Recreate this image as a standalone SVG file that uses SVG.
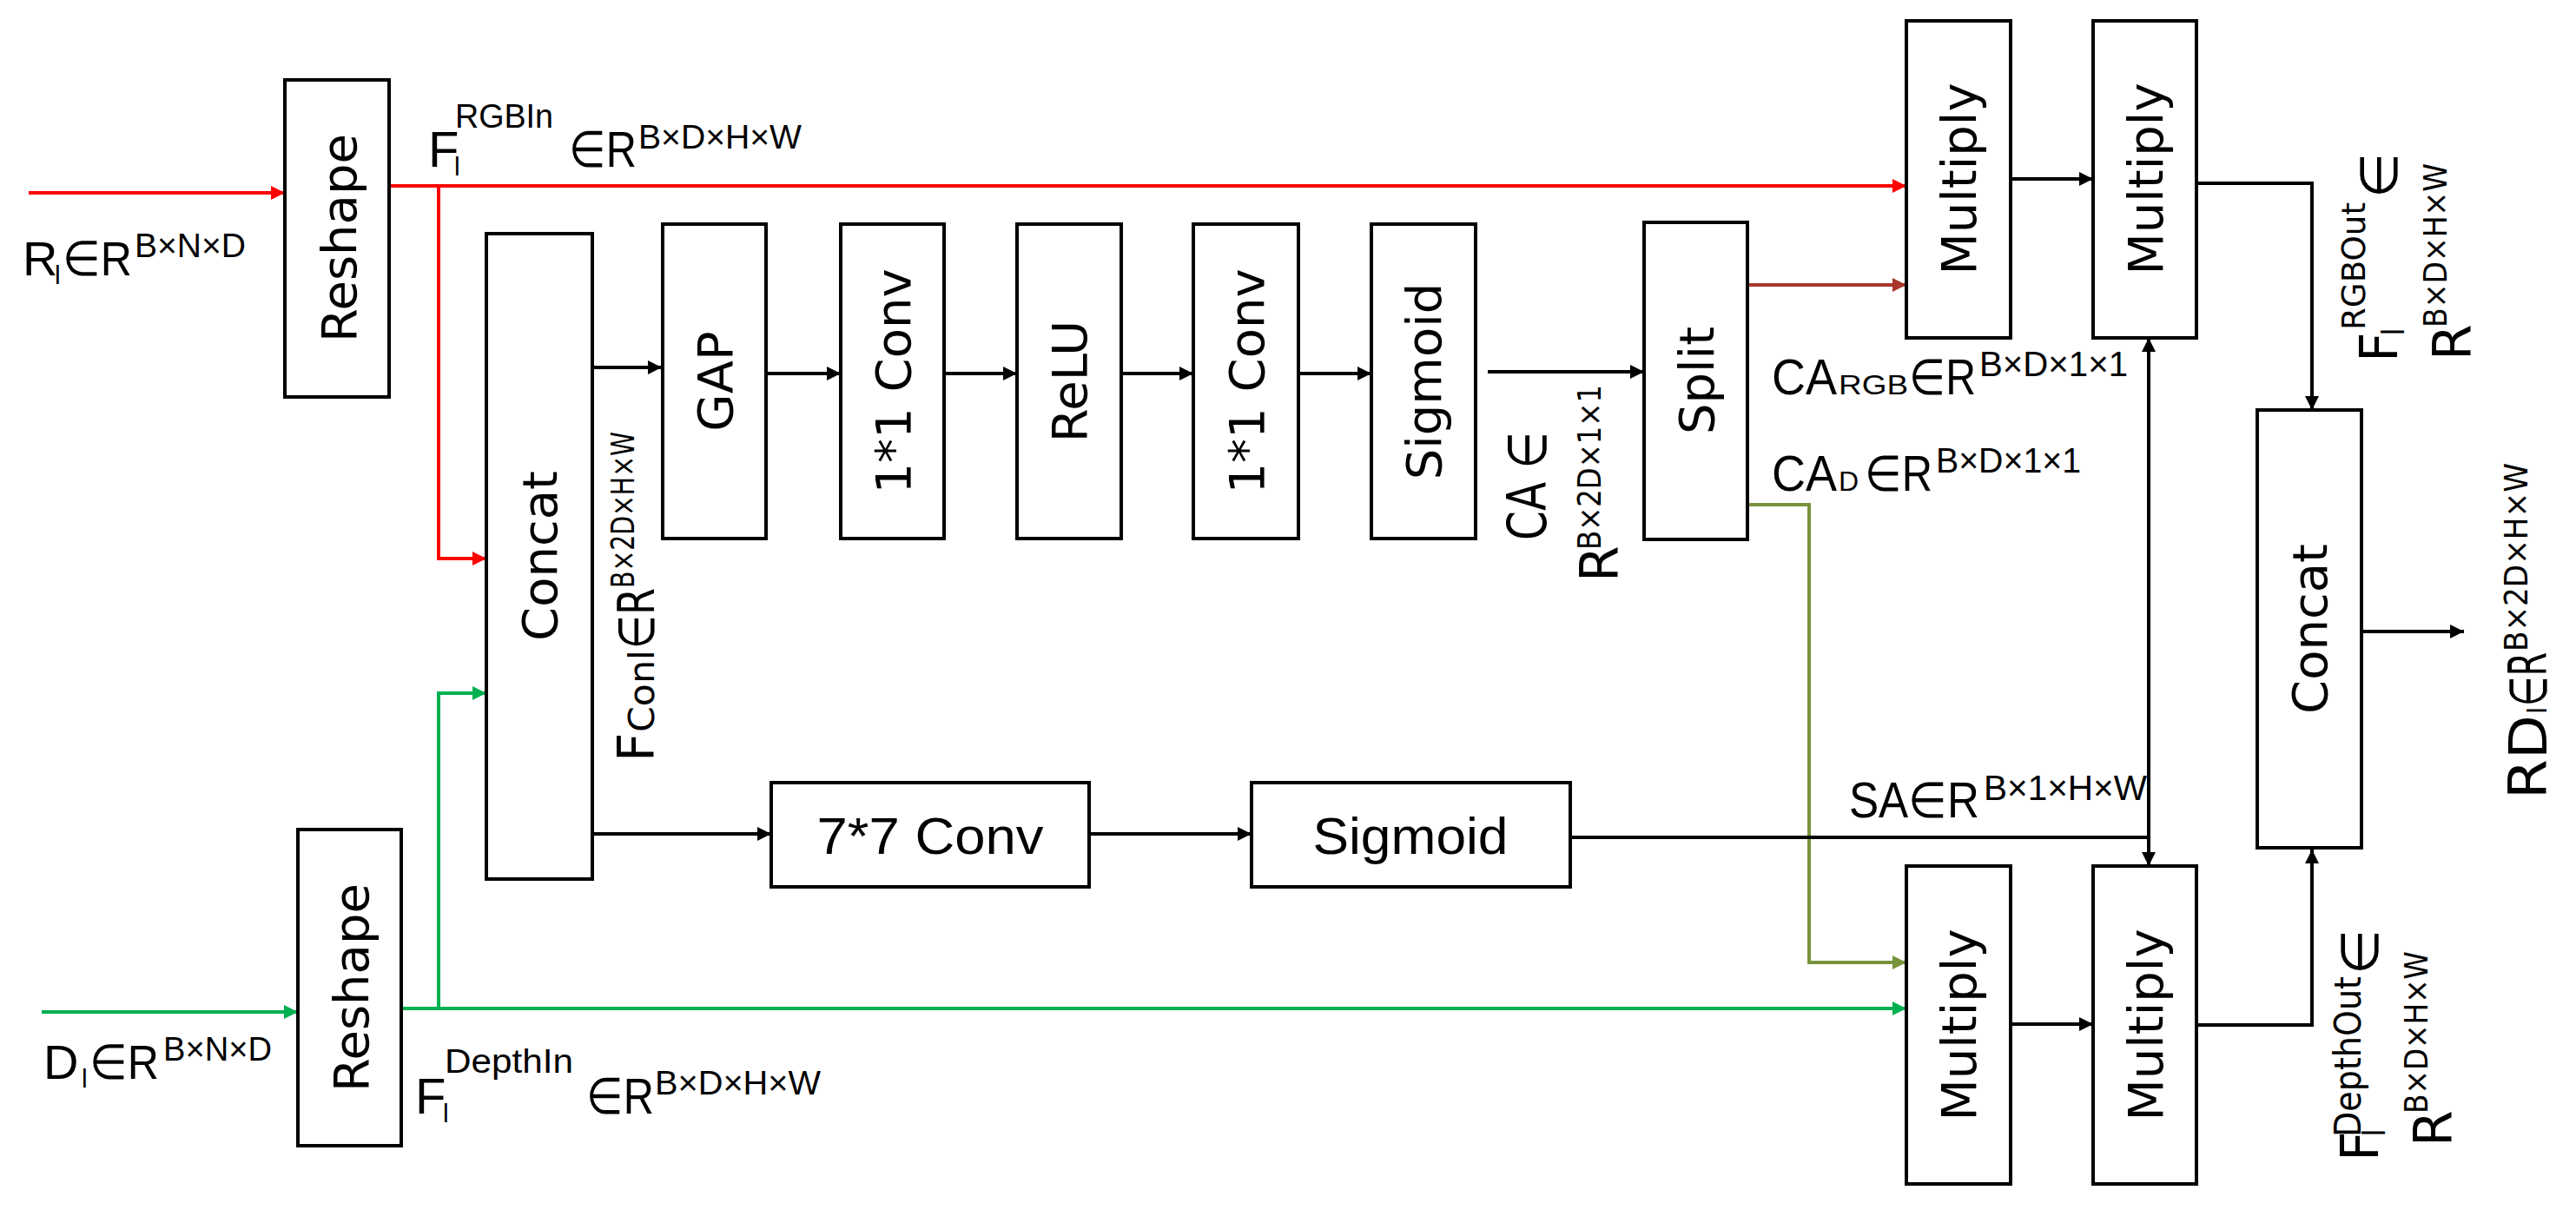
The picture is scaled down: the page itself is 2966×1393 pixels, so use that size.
<svg xmlns="http://www.w3.org/2000/svg" width="2966" height="1393" viewBox="0 0 2966 1393">
<style>
.box{fill:#fff;stroke:#000;stroke-width:4}
.bl{font-family:"DejaVu Sans",sans-serif;font-size:56px;text-anchor:middle;fill:#000}
.hl{font-family:"Liberation Sans",sans-serif;font-size:60px;text-anchor:middle;fill:#000}
.m{font-family:"Liberation Sans",sans-serif;fill:#000}
.r{font-family:"DejaVu Sans",sans-serif;fill:#000}
.c{fill:none;stroke-width:4}
</style>
<defs>
<marker id="ak" viewBox="0 0 10 10" refX="10" refY="5" markerWidth="16" markerHeight="16" markerUnits="userSpaceOnUse" orient="auto"><path d="M0 0L10 5L0 10z" fill="#000"/></marker>
<marker id="ar" viewBox="0 0 10 10" refX="10" refY="5" markerWidth="16" markerHeight="18" markerUnits="userSpaceOnUse" orient="auto"><path d="M0 0L10 5L0 10z" fill="#ff0000"/></marker>
<marker id="ag" viewBox="0 0 10 10" refX="10" refY="5" markerWidth="16" markerHeight="18" markerUnits="userSpaceOnUse" orient="auto"><path d="M0 0L10 5L0 10z" fill="#00b050"/></marker>
<marker id="ao" viewBox="0 0 10 10" refX="10" refY="5" markerWidth="16" markerHeight="18" markerUnits="userSpaceOnUse" orient="auto"><path d="M0 0L10 5L0 10z" fill="#77933c"/></marker>
<marker id="ab" viewBox="0 0 10 10" refX="10" refY="5" markerWidth="16" markerHeight="18" markerUnits="userSpaceOnUse" orient="auto"><path d="M0 0L10 5L0 10z" fill="#a9382b"/></marker>
</defs>

<g id="connectors">
<path class="c" stroke="#ff0000" d="M33 222H328" marker-end="url(#ar)"/>
<path class="c" stroke="#ff0000" d="M448 214H2195" marker-end="url(#ar)"/>
<path class="c" stroke="#ff0000" d="M505 214V643H560" marker-end="url(#ar)"/>
<path class="c" stroke="#00b050" d="M48 1165H343" marker-end="url(#ag)"/>
<path class="c" stroke="#00b050" d="M462 1161H2195" marker-end="url(#ag)"/>
<path class="c" stroke="#00b050" d="M505 1161V798H560" marker-end="url(#ag)"/>
<path class="c" stroke="#000" d="M682 423H762" marker-end="url(#ak)"/>
<path class="c" stroke="#000" d="M882 430H968" marker-end="url(#ak)"/>
<path class="c" stroke="#000" d="M1087 430H1171" marker-end="url(#ak)"/>
<path class="c" stroke="#000" d="M1291 430H1374" marker-end="url(#ak)"/>
<path class="c" stroke="#000" d="M1495 430H1579" marker-end="url(#ak)"/>
<path class="c" stroke="#000" d="M1713 428H1893" marker-end="url(#ak)"/>
<path class="c" stroke="#a9382b" d="M2012 328H2195" marker-end="url(#ab)"/>
<path class="c" stroke="#77933c" stroke-width="3" d="M2012 581H2083V1108H2195" marker-end="url(#ao)"/>
<path class="c" stroke="#000" d="M2315 206H2410" marker-end="url(#ak)"/>
<path class="c" stroke="#000" stroke-width="3" d="M2529 211H2662V472" marker-end="url(#ak)"/>
<path class="c" stroke="#000" d="M2719 727H2837" marker-end="url(#ak)"/>
<path class="c" stroke="#000" d="M682 960H888" marker-end="url(#ak)"/>
<path class="c" stroke="#000" d="M1254 960H1441" marker-end="url(#ak)"/>
<path class="c" stroke="#000" d="M1808 964H2474"/>
<path class="c" stroke="#000" stroke-width="3" d="M2474 964V389" marker-end="url(#ak)"/>
<path class="c" stroke="#000" stroke-width="3" d="M2474 964V997" marker-end="url(#ak)"/>
<path class="c" stroke="#000" d="M2315 1179H2410" marker-end="url(#ak)"/>
<path class="c" stroke="#000" stroke-width="3" d="M2529 1180H2662V978" marker-end="url(#ak)"/>
</g>

<g id="reshape1"><rect class="box" x="328" y="92" width="120" height="365"/><text class="bl" transform="translate(410,274) rotate(-90)">Reshape</text></g>
<g id="reshape2"><rect class="box" x="343" y="955" width="119" height="364"/><text class="bl" transform="translate(424,1137) rotate(-90)">Reshape</text></g>
<g id="concat1"><rect class="box" x="560" y="269" width="122" height="743"/><text class="bl" transform="translate(641,640) rotate(-90)">Concat</text></g>
<g id="gap"><rect class="box" x="763" y="258" width="119" height="362"/><text class="bl" transform="translate(843,439) rotate(-90)">GAP</text></g>
<g id="conv1"><rect class="box" x="968" y="258" width="119" height="362"/><text class="bl" transform="translate(1048,439) rotate(-90)">1*1 Conv</text></g>
<g id="relu"><rect class="box" x="1171" y="258" width="120" height="362"/><text class="bl" transform="translate(1251,439) rotate(-90)">ReLU</text></g>
<g id="conv2"><rect class="box" x="1374" y="258" width="121" height="362"/><text class="bl" transform="translate(1455,439) rotate(-90)">1*1 Conv</text></g>
<g id="sigmoid1"><rect class="box" x="1579" y="258" width="120" height="362"/><text class="bl" transform="translate(1659,439) rotate(-90)">Sigmoid</text></g>
<g id="split"><rect class="box" x="1893" y="256" width="119" height="365"/><text class="bl" transform="translate(1973,438) rotate(-90)">Split</text></g>
<g id="multTL"><rect class="box" x="2195" y="24" width="120" height="365"/><text class="bl" transform="translate(2275,206) rotate(-90)">Multiply</text></g>
<g id="multTR"><rect class="box" x="2410" y="24" width="119" height="365"/><text class="bl" transform="translate(2490,206) rotate(-90)">Multiply</text></g>
<g id="multBL"><rect class="box" x="2195" y="997" width="120" height="366"/><text class="bl" transform="translate(2275,1180) rotate(-90)">Multiply</text></g>
<g id="multBR"><rect class="box" x="2410" y="997" width="119" height="366"/><text class="bl" transform="translate(2490,1180) rotate(-90)">Multiply</text></g>
<g id="concat2"><rect class="box" x="2599" y="472" width="120" height="504"/><text class="bl" transform="translate(2679,724) rotate(-90)">Concat</text></g>
<g id="conv7"><rect class="box" x="888" y="901" width="366" height="120"/><text class="hl" x="1071" y="983" textLength="261" lengthAdjust="spacingAndGlyphs">7*7 Conv</text></g>
<g id="sigmoid2"><rect class="box" x="1441" y="901" width="367" height="120"/><text class="hl" x="1624" y="983" textLength="225" lengthAdjust="spacingAndGlyphs">Sigmoid</text></g>

<g id="labels">
<text class="m" font-size="56" x="26" y="317">R</text>
<text class="m" font-size="30" x="63" y="327">l</text>
<text class="m" font-size="56" x="72" y="317" textLength="80" lengthAdjust="spacingAndGlyphs">∈R</text>
<text class="m" font-size="38" x="155" y="296" textLength="128" lengthAdjust="spacingAndGlyphs">B×N×D</text>

<text class="m" font-size="56" x="50" y="1242">D</text>
<text class="m" font-size="30" x="94" y="1252">l</text>
<text class="m" font-size="56" x="103" y="1242" textLength="80" lengthAdjust="spacingAndGlyphs">∈R</text>
<text class="m" font-size="38" x="188" y="1221" textLength="125" lengthAdjust="spacingAndGlyphs">B×N×D</text>

<text class="m" font-size="58" x="493" y="192">F</text>
<text class="m" font-size="30" x="523" y="202">l</text>
<text class="m" font-size="38" x="524" y="147" textLength="113" lengthAdjust="spacingAndGlyphs">RGBIn</text>
<text class="m" font-size="58" x="655" y="192" textLength="78" lengthAdjust="spacingAndGlyphs">∈R</text>
<text class="m" font-size="38" x="735" y="171" textLength="188" lengthAdjust="spacingAndGlyphs">B×D×H×W</text>

<text class="m" font-size="58" x="478" y="1282">F</text>
<text class="m" font-size="30" x="510" y="1292">l</text>
<text class="m" font-size="38" x="512" y="1235" textLength="148" lengthAdjust="spacingAndGlyphs">DepthIn</text>
<text class="m" font-size="58" x="675" y="1282" textLength="78" lengthAdjust="spacingAndGlyphs">∈R</text>
<text class="m" font-size="38" x="754" y="1260" textLength="191" lengthAdjust="spacingAndGlyphs">B×D×H×W</text>

<text class="m" font-size="57" x="2040" y="454" textLength="75" lengthAdjust="spacingAndGlyphs">CA</text>
<text class="m" font-size="32" x="2117" y="454" textLength="80" lengthAdjust="spacingAndGlyphs">RGB</text>
<text class="m" font-size="57" x="2198" y="454" textLength="77" lengthAdjust="spacingAndGlyphs">∈R</text>
<text class="m" font-size="40" x="2279" y="433" textLength="171" lengthAdjust="spacingAndGlyphs">B×D×1×1</text>

<text class="m" font-size="57" x="2040" y="565" textLength="75" lengthAdjust="spacingAndGlyphs">CA</text>
<text class="m" font-size="32" x="2117" y="565">D</text>
<text class="m" font-size="57" x="2147" y="565" textLength="78" lengthAdjust="spacingAndGlyphs">∈R</text>
<text class="m" font-size="40" x="2229" y="544" textLength="167" lengthAdjust="spacingAndGlyphs">B×D×1×1</text>

<text class="m" font-size="57" x="2129" y="941" textLength="150" lengthAdjust="spacingAndGlyphs">SA∈R</text>
<text class="m" font-size="40" x="2284" y="921" textLength="188" lengthAdjust="spacingAndGlyphs">B×1×H×W</text>

<g transform="translate(753,877) rotate(-90)">
<text class="r" font-size="58" x="0" y="0">F</text>
<text class="r" font-size="40" x="34" y="0" textLength="95" lengthAdjust="spacingAndGlyphs">Conl</text>
<text class="r" font-size="58" x="130" y="0" textLength="70" lengthAdjust="spacingAndGlyphs">∈R</text>
<text class="r" font-size="37" x="200" y="-23" textLength="180" lengthAdjust="spacingAndGlyphs">B×2D×H×W</text>
</g>

<g transform="translate(1780,622) rotate(-90)">
<text class="r" font-size="62" x="0" y="0" textLength="125" lengthAdjust="spacingAndGlyphs">CA ∈</text>
</g>
<g transform="translate(1863,670) rotate(-90)">
<text class="r" font-size="60" x="0" y="0">R</text>
<text class="r" font-size="37" x="37" y="-20" textLength="190" lengthAdjust="spacingAndGlyphs">B×2D×1×1</text>
</g>

<g transform="translate(2760,417) rotate(-90)">
<text class="r" font-size="60" x="0" y="0">F</text>
<text class="r" font-size="36" x="30" y="8">l</text>
<text class="r" font-size="38" x="37" y="-37" textLength="147" lengthAdjust="spacingAndGlyphs">RGBOut</text>
<text class="r" font-size="60" x="189" y="0">∈</text>
</g>
<g transform="translate(2845,415) rotate(-90)">
<text class="r" font-size="60" x="0" y="0">R</text>
<text class="r" font-size="38" x="38" y="-28" textLength="189" lengthAdjust="spacingAndGlyphs">B×D×H×W</text>
</g>

<g transform="translate(2932,920) rotate(-90)">
<text class="r" font-size="60" x="0" y="0" textLength="97" lengthAdjust="spacingAndGlyphs">RD</text>
<text class="r" font-size="30" x="98" y="0">l</text>
<text class="r" font-size="60" x="107" y="0" textLength="62" lengthAdjust="spacingAndGlyphs">∈R</text>
<text class="r" font-size="38" x="170" y="-22" textLength="217" lengthAdjust="spacingAndGlyphs">B×2D×H×W</text>
</g>

<g transform="translate(2738,1337) rotate(-90)">
<text class="r" font-size="60" x="0" y="0">F</text>
<text class="r" font-size="36" x="28" y="8">l</text>
<text class="r" font-size="42" x="28" y="-20" textLength="185" lengthAdjust="spacingAndGlyphs">DepthOut</text>
<text class="r" font-size="60" x="215" y="0">∈</text>
</g>
<g transform="translate(2823,1320) rotate(-90)">
<text class="r" font-size="60" x="0" y="0">R</text>
<text class="r" font-size="38" x="38" y="-28" textLength="187" lengthAdjust="spacingAndGlyphs">B×D×H×W</text>
</g>
</g>
</svg>
